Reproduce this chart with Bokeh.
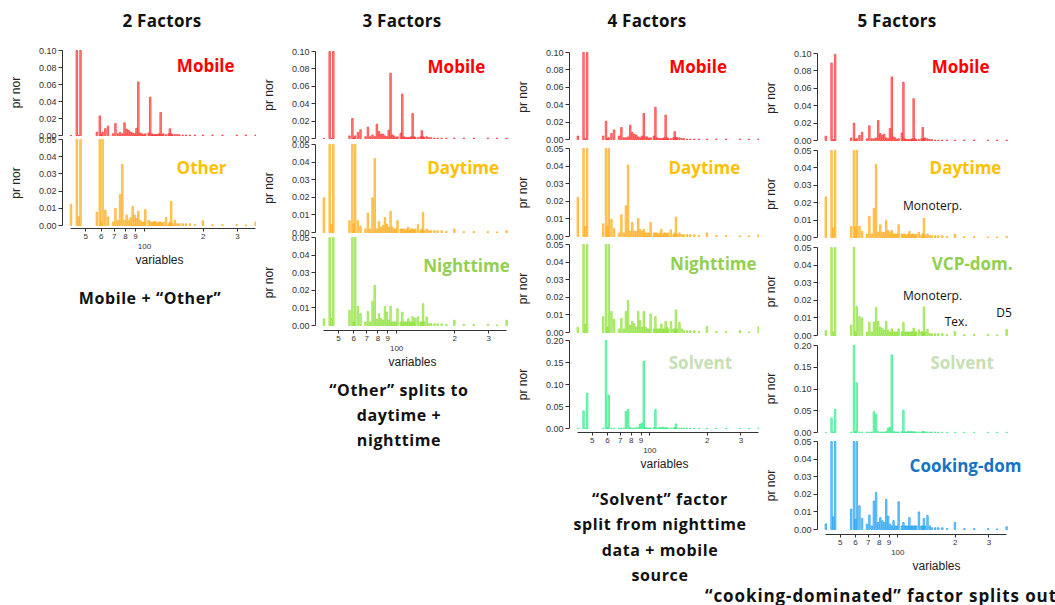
import math
from bokeh.plotting import figure
from bokeh.layouts import column, row
from bokeh.models import Range1d, FixedTicker, PrintfTickFormatter, Label, Div, ColumnDataSource
from bokeh.embed import file_html
from bokeh.resources import INLINE

# ---------------- data (m/z channels and normalised factor profiles) ----------------
mz = [42, 45, 46, 47, 57, 59, 60, 61, 63, 65,
      69, 71, 73, 75, 77, 79, 81, 83, 85, 87,
      89, 91, 93, 95, 97, 99, 101, 105, 107, 109,
      111, 113, 115, 117, 119, 121, 123, 125, 129, 133,
      135, 137, 139, 143, 147, 151, 157, 163, 171, 181,
      199, 223, 251, 297, 331, 371]

x_ticks = [50, 60, 70, 80, 90, 100, 200, 300]
x_tick_labels = ["5", "6", "7", "8", "9", "\n100", "2", "3"]
y_ticks_010 = [0.0, 0.02, 0.04, 0.06, 0.08, 0.10]
y_ticks_005 = [0.0, 0.01, 0.02, 0.03, 0.04, 0.05]
y_ticks_020 = [0.0, 0.05, 0.10, 0.15, 0.20]

# 2 factors
f2_mobile = [0.0, 0.100, 0.0, 0.100, 0.004, 0.023, 0.001, 0.004, 0.008, 0.011,
             0.002, 0.014, 0.002, 0.0035, 0.002, 0.015, 0.0075, 0.006, 0.004, 0.003,
             0.002, 0.0086, 0.063, 0.003, 0.002, 0.001, 0.002, 0.003, 0.045, 0.002,
             0.001, 0.001, 0.001, 0.001, 0.002, 0.027, 0.001, 0.002, 0.001, 0.002,
             0.008, 0.002, 0.001, 0.001, 0.001, 0.001, 0.0005, 0.0005, 0.0005, 0.0005,
             0.0005, 0.0005, 0.0005, 0.0005, 0.0005, 0.0005]
f2_other = [0.0124, 0.05, 0.005, 0.05, 0.0078, 0.05, 0.002, 0.05, 0.009, 0.005,
            0.002, 0.010, 0.003, 0.018, 0.0355, 0.003, 0.006, 0.003, 0.0045, 0.011,
            0.006, 0.004, 0.0083, 0.003, 0.002, 0.002, 0.0093, 0.003, 0.002, 0.002,
            0.002, 0.0023, 0.002, 0.001, 0.002, 0.002, 0.001, 0.002, 0.0046, 0.001,
            0.002, 0.014, 0.001, 0.003, 0.001, 0.001, 0.001, 0.001, 0.001, 0.0005,
            0.0027, 0.0005, 0.0005, 0.0005, 0.0003, 0.002]
# 3 factors
f3_mobile = [0.0, 0.10, 0.0, 0.10, 0.003, 0.023, 0.001, 0.003, 0.007, 0.010,
             0.002, 0.013, 0.002, 0.004, 0.002, 0.0165, 0.008, 0.005, 0.005, 0.003,
             0.002, 0.0095, 0.075, 0.004, 0.003, 0.001, 0.002, 0.006, 0.051, 0.002,
             0.001, 0.001, 0.001, 0.001, 0.002, 0.0286, 0.002, 0.001, 0.001, 0.002,
             0.009, 0.002, 0.001, 0.002, 0.001, 0.001, 0.0005, 0.0005, 0.0005, 0.0005,
             0.0005, 0.0005, 0.0005, 0.0005, 0.0005, 0.0005]
f3_day = [0.0197, 0.05, 0.0044, 0.05, 0.0067, 0.05, 0.005, 0.05, 0.0067, 0.0035,
          0.002, 0.011, 0.002, 0.0197, 0.042, 0.002, 0.0063, 0.003, 0.004, 0.0086,
          0.0048, 0.003, 0.012, 0.003, 0.002, 0.002, 0.0067, 0.002, 0.002, 0.002,
          0.001, 0.002, 0.003, 0.001, 0.002, 0.002, 0.001, 0.002, 0.0044, 0.001,
          0.002, 0.0113, 0.001, 0.002, 0.001, 0.001, 0.001, 0.001, 0.001, 0.0005,
          0.002, 0.0005, 0.0005, 0.0005, 0.0003, 0.001]
f3_night = [0.0038, 0.05, 0.004, 0.05, 0.0086, 0.05, 0.002, 0.05, 0.011, 0.0067,
            0.002, 0.008, 0.002, 0.0137, 0.0228, 0.0035, 0.0067, 0.004, 0.003, 0.0108,
            0.0076, 0.003, 0.011, 0.002, 0.002, 0.002, 0.0095, 0.002, 0.0076, 0.002,
            0.002, 0.002, 0.0038, 0.002, 0.002, 0.005, 0.002, 0.0042, 0.005, 0.002,
            0.002, 0.0124, 0.002, 0.0048, 0.001, 0.001, 0.001, 0.001, 0.001, 0.0005,
            0.003, 0.0005, 0.0005, 0.0005, 0.0003, 0.003]
# 4 factors
f4_mobile = [0.004, 0.10, 0.001, 0.10, 0.004, 0.021, 0.001, 0.002, 0.007, 0.011,
             0.004, 0.0137, 0.002, 0.002, 0.003, 0.0163, 0.008, 0.006, 0.005, 0.003,
             0.002, 0.004, 0.030, 0.003, 0.003, 0.001, 0.002, 0.004, 0.037, 0.002,
             0.001, 0.001, 0.001, 0.001, 0.002, 0.028, 0.002, 0.001, 0.001, 0.002,
             0.009, 0.002, 0.002, 0.002, 0.001, 0.001, 0.0005, 0.0005, 0.0005, 0.0005,
             0.0005, 0.0005, 0.0005, 0.0005, 0.0005, 0.0005]
f4_day = [0.0223, 0.05, 0.0057, 0.05, 0.0072, 0.05, 0.0057, 0.05, 0.0098, 0.0045,
          0.002, 0.0123, 0.002, 0.0175, 0.0406, 0.003, 0.0079, 0.003, 0.003, 0.0102,
          0.004, 0.003, 0.004, 0.002, 0.002, 0.002, 0.008, 0.002, 0.002, 0.002,
          0.001, 0.002, 0.004, 0.001, 0.002, 0.002, 0.001, 0.002, 0.0038, 0.001,
          0.002, 0.011, 0.001, 0.002, 0.001, 0.001, 0.001, 0.001, 0.001, 0.0005,
          0.002, 0.0005, 0.0005, 0.0003, 0.0003, 0.001]
f4_night = [0.0029, 0.05, 0.0048, 0.05, 0.009, 0.05, 0.003, 0.05, 0.0119, 0.0075,
            0.002, 0.008, 0.002, 0.0119, 0.0182, 0.004, 0.0063, 0.005, 0.003, 0.0119,
            0.0067, 0.003, 0.0119, 0.003, 0.002, 0.002, 0.0105, 0.002, 0.009, 0.002,
            0.002, 0.002, 0.0048, 0.002, 0.002, 0.0063, 0.003, 0.002, 0.0063, 0.002,
            0.002, 0.0128, 0.002, 0.0057, 0.002, 0.001, 0.001, 0.001, 0.001, 0.0005,
            0.0034, 0.0005, 0.0005, 0.001, 0.0003, 0.0032]
f4_solvent = [0.0, 0.040, 0.001, 0.080, 0.001, 0.20, 0.002, 0.076, 0.001, 0.001,
              0.001, 0.001, 0.001, 0.039, 0.043, 0.002, 0.001, 0.001, 0.001, 0.002,
              0.010, 0.012, 0.153, 0.002, 0.001, 0.001, 0.001, 0.002, 0.043, 0.001,
              0.001, 0.003, 0.001, 0.003, 0.001, 0.002, 0.001, 0.001, 0.001, 0.001,
              0.002, 0.0105, 0.001, 0.001, 0.001, 0.001, 0.001, 0.0005, 0.0005, 0.0005,
              0.0005, 0.0005, 0.0005, 0.0005, 0.0005, 0.0005]
# 5 factors
f5_mobile = [0.005, 0.089, 0.001, 0.099, 0.003, 0.020, 0.001, 0.002, 0.0057, 0.0095,
             0.002, 0.017, 0.002, 0.002, 0.003, 0.023, 0.008, 0.006, 0.007, 0.003,
             0.002, 0.0137, 0.073, 0.004, 0.003, 0.001, 0.002, 0.0087, 0.067, 0.002,
             0.001, 0.001, 0.001, 0.001, 0.002, 0.048, 0.002, 0.001, 0.001, 0.002,
             0.015, 0.002, 0.003, 0.002, 0.001, 0.001, 0.0005, 0.0005, 0.0005, 0.0005,
             0.0005, 0.0005, 0.0005, 0.0005, 0.0005, 0.0005]
f5_day = [0.0233, 0.05, 0.0055, 0.05, 0.0063, 0.05, 0.006, 0.05, 0.0065, 0.0036,
          0.002, 0.0122, 0.002, 0.0168, 0.042, 0.003, 0.0073, 0.003, 0.003, 0.0099,
          0.004, 0.003, 0.004, 0.002, 0.002, 0.002, 0.0073, 0.002, 0.002, 0.002,
          0.001, 0.002, 0.0034, 0.001, 0.002, 0.002, 0.001, 0.002, 0.003, 0.001,
          0.002, 0.011, 0.001, 0.002, 0.001, 0.001, 0.001, 0.001, 0.001, 0.0005,
          0.002, 0.0005, 0.0005, 0.0003, 0.0003, 0.0005]
f5_vcp = [0.0029, 0.05, 0.002, 0.05, 0.006, 0.05, 0.002, 0.0165, 0.0108, 0.010,
          0.002, 0.0076, 0.002, 0.0076, 0.0158, 0.008, 0.0048, 0.004, 0.003, 0.008,
          0.003, 0.002, 0.0038, 0.002, 0.002, 0.002, 0.0038, 0.002, 0.0074, 0.002,
          0.002, 0.002, 0.002, 0.002, 0.002, 0.0042, 0.002, 0.002, 0.0032, 0.002,
          0.002, 0.0162, 0.002, 0.0034, 0.001, 0.001, 0.001, 0.001, 0.001, 0.0005,
          0.0023, 0.0005, 0.0005, 0.0005, 0.0003, 0.0034]
f5_solvent = [0.0, 0.033, 0.001, 0.053, 0.001, 0.20, 0.002, 0.114, 0.001, 0.001,
              0.001, 0.001, 0.001, 0.0475, 0.042, 0.002, 0.001, 0.001, 0.001, 0.002,
              0.010, 0.012, 0.1785, 0.002, 0.001, 0.001, 0.001, 0.002, 0.051, 0.001,
              0.001, 0.003, 0.001, 0.003, 0.001, 0.002, 0.001, 0.001, 0.001, 0.001,
              0.002, 0.002, 0.001, 0.001, 0.001, 0.001, 0.001, 0.0005, 0.0005, 0.0005,
              0.0005, 0.0005, 0.0005, 0.0005, 0.0005, 0.0005]
f5_cooking = [0.0032, 0.05, 0.0072, 0.05, 0.0116, 0.05, 0.0057, 0.05, 0.0135, 0.0063,
              0.003, 0.0082, 0.002, 0.0162, 0.021, 0.004, 0.0067, 0.005, 0.004, 0.0171,
              0.0076, 0.003, 0.002, 0.005, 0.002, 0.002, 0.0158, 0.002, 0.004, 0.002,
              0.002, 0.002, 0.0068, 0.002, 0.002, 0.002, 0.002, 0.002, 0.010, 0.002,
              0.002, 0.0063, 0.002, 0.008, 0.002, 0.001, 0.001, 0.001, 0.001, 0.0005,
              0.004, 0.0005, 0.0005, 0.0005, 0.0003, 0.0015]

# ---------------- styling ----------------
KIND = {
    "mobile":  ("#ff3434", "#ff0000"),
    "day":     ("#ffad1c", "#ffc000"),
    "night":   ("#8fe23c", "#92d050"),
    "solvent": ("#36ec8c", "#c5e0b4"),
    "cook":    ("#26a4f2", "#1673c4"),
}
YT = {0.10: y_ticks_010, 0.05: y_ticks_005, 0.20: y_ticks_020}

# fw = frame width spanning the data (m/z 38..375), ext = extra frame room on the right
columns_def = [
    dict(title="2 Factors", caption=["Mobile + \u201cOther\u201d"],
         panels=[("Mobile", f2_mobile, 0.10, "mobile", 206, 0.0824, []),
                 ("Other", f2_other, 0.05, "day", 196, 0.0339, [])],
         mbl=62, fw=194, ext=0, T=[50, 139], Z=[135, 225], A=228, cap_top=272,
         title_cx=162, cap_cx=150, cap_cy=26, cap_lh=25),
    dict(title="3 Factors", caption=["\u201cOther\u201d splits to", "daytime +", "nighttime"],
         panels=[("Mobile", f3_mobile, 0.10, "mobile", 204, 0.083, []),
                 ("Daytime", f3_day, 0.05, "day", 221, 0.037, []),
                 ("Nighttime", f3_night, 0.05, "night", 230, 0.034, [])],
         mbl=59, fw=192, ext=2, T=[51, 144, 237], Z=[138, 232, 325], A=330, cap_top=372,
         title_cx=146, cap_cx=143, cap_cy=43, cap_lh=25),
    dict(title="4 Factors", caption=["\u201cSolvent\u201d factor", "split from nighttime",
                                     "data + mobile", "source"],
         panels=[("Mobile", f4_mobile, 0.10, "mobile", 179, 0.084, []),
                 ("Daytime", f4_day, 0.05, "day", 193, 0.039, []),
                 ("Nighttime", f4_night, 0.05, "night", 215, 0.039, []),
                 ("Solvent", f4_solvent, 0.20, "solvent", 184, 0.151, [])],
         mbl=60, fw=190, ext=0, T=[52, 148, 244, 340], Z=[139, 236, 332, 428], A=432, cap_top=477,
         title_cx=138, cap_cx=151, cap_cy=61, cap_lh=25.3),
    dict(title="5 Factors", caption=None,
         panels=[("Mobile", f5_mobile, 0.10, "mobile", 213, 0.0855, []),
                 ("Daytime", f5_day, 0.05, "day", 226, 0.040, [("Monoterp.", 152, 0.0184)]),
                 ("VCP-dom.", f5_vcp, 0.05, "night", 245, 0.0407,
                  [("Monoterp.", 152, 0.0227), ("Tex.", 202, 0.0081), ("D5", 360, 0.0132)]),
                 ("Solvent", f5_solvent, 0.20, "solvent", 217, 0.162, []),
                 ("Cooking-dom", f5_cooking, 0.05, "cook", 226, 0.0364, [])],
         mbl=58, fw=190, ext=48, T=[53, 150, 247, 345, 441], Z=[140, 237, 335, 432, 529], A=534,
         cap_top=584, title_cx=138),
]
TOTAL_H = 584
BAR_HALF = 1.009   # multiplicative half-width of the bars on the log axis
X_LO, X_HI = 38, 375
OVL = 6            # vertical canvas overlap so that tick labels of stacked panels are not cut

TEXT_FONT = "Open Sans"
AXIS_FONT = "Liberation Sans"


def make_panel(spec, col, i):
    label, vals, ymax, kind, lx, ly, notes = spec
    n = len(col["panels"])
    T, Z = col["T"][i], col["Z"][i]
    ft = T - 3 if i == 0 else round((col["Z"][i - 1] + T) / 2)
    fb = col["A"] if i == n - 1 else round((Z + col["T"][i + 1]) / 2)
    last = i == n - 1
    D = Z - T
    yr = Range1d(-ymax * (fb - Z) / D, ymax * (Z - ft) / D)
    px_per_dec = col["fw"] / math.log10(X_HI / X_LO)
    x_hi = X_HI * 10 ** (col["ext"] / px_per_dec)
    p = figure(frame_width=col["fw"] + col["ext"], frame_height=fb - ft,
               x_axis_type="log", x_range=Range1d(X_LO, x_hi), y_range=yr,
               x_axis_location="below" if last else None,
               toolbar_location=None, output_backend="svg",
               background_fill_color=None, border_fill_color=None,
               min_border_left=col["mbl"], min_border_right=0,
               min_border_top=6 if i == 0 else OVL,
               min_border_bottom=(col["cap_top"] - col["A"]) if last else OVL)
    if i > 0:
        p.margin = (-2 * OVL, 0, 0, 0)
    p.outline_line_color = None
    p.xgrid.visible = False
    p.ygrid.visible = False
    bar, lab = KIND[kind]
    src = ColumnDataSource(dict(left=[m / BAR_HALF for m in mz],
                                right=[m * BAR_HALF for m in mz], top=vals))
    p.quad(left="left", right="right", bottom=0, top="top", source=src,
           fill_color=bar, fill_alpha=0.55, line_color=bar, line_alpha=0.95, line_width=0.8)

    ax = p.yaxis[0]
    ax.ticker = FixedTicker(ticks=YT[ymax])
    ax.formatter = PrintfTickFormatter(format="%.2f")
    ax.bounds = (0, ymax)
    ax.axis_label = "pr nor"
    ax.axis_label_text_font = AXIS_FONT
    ax.axis_label_text_font_size = "12px"
    ax.axis_label_text_font_style = "normal"
    ax.axis_label_text_color = "#222222"
    ax.axis_label_standoff = 13
    ax.major_label_text_font = AXIS_FONT
    ax.major_label_text_font_size = "9px"
    ax.major_label_text_color = "#333333"
    ax.major_label_standoff = 2
    ax.major_tick_out = 4
    ax.major_tick_in = 0
    ax.minor_tick_out = 0
    ax.minor_tick_in = 0
    ax.axis_line_color = "#333333"
    ax.major_tick_line_color = "#333333"

    if last:
        xa = p.xaxis[0]
        xa.ticker = FixedTicker(ticks=x_ticks)
        xa.major_label_overrides = {t: s for t, s in zip(x_ticks, x_tick_labels)}
        xa.bounds = (42, 372)
        xa.axis_label = "variables"
        xa.axis_label_text_font = AXIS_FONT
        xa.axis_label_text_font_size = "12px"
        xa.axis_label_text_font_style = "normal"
        xa.axis_label_text_color = "#222222"
        xa.axis_label_standoff = -1
        xa.major_label_text_font = AXIS_FONT
        xa.major_label_text_font_size = "8px"
        xa.major_label_text_color = "#333333"
        xa.major_label_standoff = 0
        xa.major_tick_out = 3
        xa.major_tick_in = 0
        xa.minor_tick_out = 0
        xa.minor_tick_in = 0
        xa.axis_line_color = "#333333"
        xa.major_tick_line_color = "#333333"

    p.add_layout(Label(x=lx, y=ly, text=label, text_align="center", text_baseline="middle",
                       text_font=TEXT_FONT, text_font_size="17px", text_font_style="bold",
                       text_color=lab))
    for txt, nx, ny in notes:
        p.add_layout(Label(x=nx, y=ny, text=txt, text_align="center", text_baseline="middle",
                           text_font=TEXT_FONT, text_font_size="12px", text_color="#111111"))
    return p


def text_div(w, h, cx, cy, lines, lh, fs=16, ls=0.6, align="center"):
    tr = "translate(-50%,-50%)" if align == "center" else "translate(0,-50%)"
    inner = "<br>".join(lines)
    html = ('<div style="position:relative;width:%dpx;height:%dpx;">'
            '<div style="position:absolute;left:%spx;top:%spx;transform:%s;white-space:nowrap;'
            'text-align:center;font-family:\'Open Sans\',sans-serif;font-weight:700;'
            'font-size:%spx;line-height:%spx;letter-spacing:%spx;color:#111111;">%s</div></div>'
            % (w, h, cx, cy, tr, fs, lh, ls, inner))
    return Div(text=html, width=w, height=h, margin=0)


cols = []
for col in columns_def:
    w = col["mbl"] + col["fw"] + col["ext"]
    th = col["T"][0] - 9
    children = [text_div(w, th, col["title_cx"], 21, [col["title"]], 24, fs=17, ls=0.3)]
    for i, spec in enumerate(col["panels"]):
        children.append(make_panel(spec, col, i))
    if col["caption"]:
        children.append(text_div(w, TOTAL_H - col["cap_top"], col["cap_cx"], col["cap_cy"],
                                 col["caption"], col["cap_lh"]))
    cols.append(column(children, spacing=0))

bottom = text_div(1055, 605 - TOTAL_H, 705, 12,
                  ["\u201ccooking-dominated\u201d factor splits out"], 18,
                  fs=17, ls=0.9, align="left")
layout = column(row(cols, spacing=0), bottom, spacing=0)

open("out.html", "w").write(file_html(layout, INLINE))
